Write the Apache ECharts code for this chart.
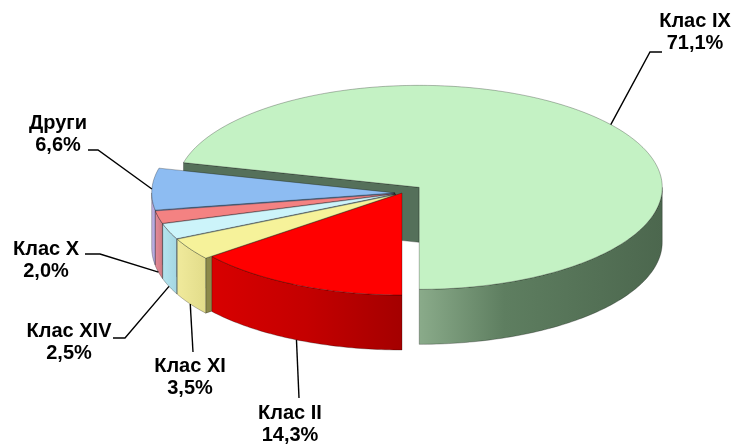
<!DOCTYPE html>
<html lang="bg">
<head>
<meta charset="utf-8">
<title>Разпределение по класове</title>
<style>
  html, body { margin: 0; padding: 0; background: #fff; }
  #chart { width: 734px; height: 445px; }
</style>
</head>
<body>
<div id="chart"></div>
<script src="https://cdn.jsdelivr.net/npm/echarts@6/dist/echarts.min.js"></script>
<script>
// данни
const categories = ['Клас IX', 'Други', 'Клас X', 'Клас XIV', 'Клас XI', 'Клас II'];
const shares = [71.1, 6.6, 2.0, 2.5, 3.5, 14.3];

// цветове
const topColors = ['#c4f2c4', '#8dbcf2', '#f48282', '#ccf4fa', '#f6f29a', '#ff0000'];
const wallColors = ['#55705a', '#6f8fc0', '#b86060', '#96c4cc', '#8c8a4a', '#a00000'];
const sideStops = [
    [['#8aab8a', 0], ['#5e7e60', 0.35], ['#4c674e', 1]],
    [['#c8b4e4', 0], ['#a9a6de', 1]],
    [['#e48a9a', 0], ['#d07a80', 1]],
    [['#b4e4ee', 0], ['#a4d6e2', 1]],
    [['#f0ea9c', 0], ['#e2dc8a', 1]],
    [['#d80000', 0], ['#c40000', 0.5], ['#a40000', 1]]
];
const explode = [0.09, 0.03, 0.03, 0.03, 0.03, 0];

// подписи
const labelCenter = [[695, 32], [58, 134], [46, 260], [69, 342], [190, 377], [290, 424]];
const leaderKnee = [[650, 52], [98, 150], [100, 254], [125, 338], [193, 352], [299, 398]];
const leaderEnd = [[662, 52], [88, 150], [85, 254], [113, 338], [193, 352], [299, 398]];

const pie = { cx: 402, cy: 193, rx: 243, ry: 102, depth: 55, startAngle: -90 };

const total = shares.reduce(function (a, b) { return a + b; }, 0);
const starts = [];
let acc = pie.startAngle;
shares.forEach(function (v) { starts.push(acc); acc += v / total * 360; });

function pt(off, deg, h) {
    const r = deg * Math.PI / 180;
    return [pie.cx + off[0] + pie.rx * Math.cos(r), pie.cy + off[1] - pie.ry * Math.sin(r) + (h || 0)];
}

function arc(off, a0, a1, h) {
    const pts = [];
    const n = Math.max(2, Math.ceil(Math.abs(a1 - a0)));
    for (let i = 0; i <= n; i++) pts.push(pt(off, a0 + (a1 - a0) * i / n, h));
    return pts;
}

function grad(stops) {
    return new echarts.graphic.LinearGradient(0, 0, 1, 0, stops.map(function (s) {
        return { offset: s[1], color: s[0] };
    }));
}

function renderSlice(params, api) {
    const i = params.dataIndex;
    const v = api.value(0);
    const a0 = starts[i], a1 = a0 + v / total * 360, mid = (a0 + a1) / 2;
    const mr = mid * Math.PI / 180;
    const off = [explode[i] * pie.rx * Math.cos(mr), -explode[i] * pie.ry * Math.sin(mr)];
    const apex = [pie.cx + off[0], pie.cy + off[1]];
    const dist = Math.abs((((mid - 270) % 360) + 540) % 360 - 180);
    const zw = 1 + Math.round(180 - dist) * 2;
    const edge = 'rgba(0,0,0,0.45)';
    const children = [];

    // радиални стени
    [[a0, Math.cos(a0 * Math.PI / 180) > 0.001], [a1, Math.cos(a1 * Math.PI / 180) < -0.001]].forEach(function (w) {
        if (!w[1]) return;
        const p = pt(off, w[0], 0), q = pt(off, w[0], pie.depth);
        children.push({
            type: 'polygon', z2: zw,
            shape: { points: [apex, p, q, [apex[0], apex[1] + pie.depth]] },
            style: { fill: wallColors[i], stroke: edge, lineWidth: 0.6 }
        });
    });

    // външна стена (само предната половина)
    for (let k = -1; k <= 1; k++) {
        const s = Math.max(a0, 180 + 360 * k), e = Math.min(a1, 360 + 360 * k);
        if (e > s) {
            children.push({
                type: 'polygon', z2: zw + 1,
                shape: { points: arc(off, s, e, 0).concat(arc(off, e, s, pie.depth)) },
                style: { fill: grad(sideStops[i]), stroke: edge, lineWidth: 0.6 }
            });
        }
    }

    // горна страна
    children.push({
        type: 'polygon', z2: 500,
        shape: { points: [apex].concat(arc(off, a0, a1, 0)) },
        style: { fill: topColors[i], stroke: edge, lineWidth: 0.6 }
    });

    // линия към подписа
    const rim = pt(off, mid, Math.sin(mr) < 0 ? pie.depth : 0);
    children.push({
        type: 'polyline', z2: 550,
        shape: { points: [rim, leaderKnee[i], leaderEnd[i]] },
        style: { stroke: '#000', lineWidth: 1.4, fill: null }
    });
    children.push({
        type: 'text', z2: 560,
        x: labelCenter[i][0], y: labelCenter[i][1],
        style: {
            text: categories[i] + '\n' + v.toFixed(1).replace('.', ',') + '%',
            fill: '#000',
            font: 'bold 20px "Liberation Sans", Arial, sans-serif',
            align: 'center', verticalAlign: 'middle', lineHeight: 22
        }
    });
    return { type: 'group', children: children };
}

let chart = echarts.init(document.getElementById('chart'));
let option = {
    animation: false,
    series: [{
        type: 'custom',
        coordinateSystem: 'none',
        renderItem: renderSlice,
        data: shares.map(function (v, i) { return { name: categories[i], value: [v] }; })
    }]
};
chart.setOption(option);
</script>
</body>
</html>
